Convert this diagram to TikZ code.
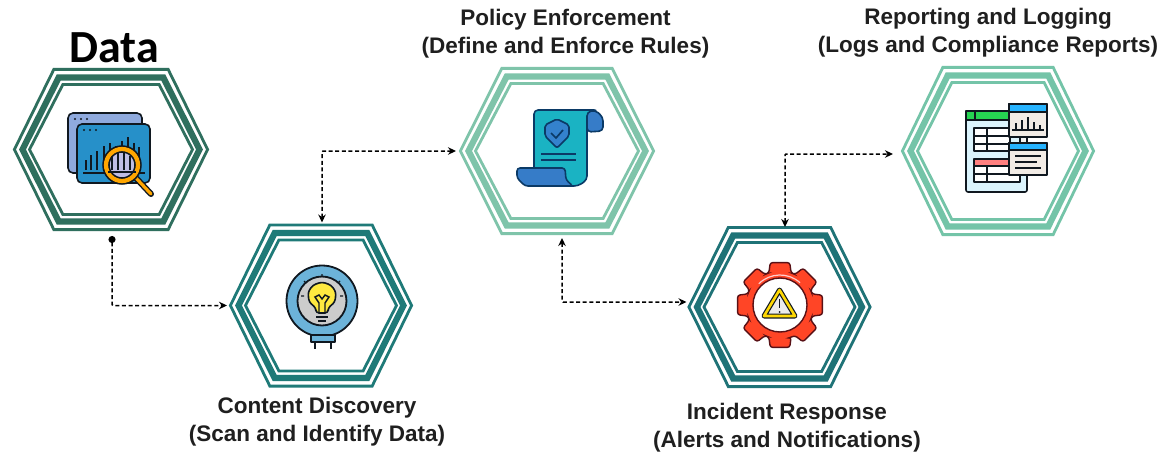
\documentclass[tikz,border=0pt]{standalone}
\usepackage{fontspec}
\setmainfont{Liberation Sans}
\newfontfamily\datafont{Carlito}
\usetikzlibrary{arrows.meta}
\definecolor{hexA}{HTML}{2F6F5E}
\definecolor{hexB}{HTML}{1F7A78}
\definecolor{hexC}{HTML}{7FC4AA}
\definecolor{hexD}{HTML}{1F7377}
\definecolor{hexE}{HTML}{74C4A8}
\definecolor{ink}{HTML}{101820}
\definecolor{navy}{HTML}{0B3A66}
\tikzset{
  x=1pt,y=-1pt,
  label text/.style={font=\bfseries\fontsize{22.5}{28}\selectfont,align=center,text=black!88,inner sep=0pt},
  link/.style={draw=black,line width=1.5pt,dash pattern=on 4pt off 2.6pt,rounded corners=1pt},
  tip/.style={{Stealth[length=8pt,width=7.5pt]}-{Stealth[length=8pt,width=7.5pt]}},
  dottip/.style={{Circle[length=7pt]}-{Stealth[length=8pt,width=7.5pt]}},
  ic/.style={draw=ink,line width=1.6pt,line join=round},
  nc/.style={draw=navy,line width=1.6pt,line join=round},
}
% cx cy w h t colour name
\newcommand{\hexring}[7]{%
  \foreach \k/\lw in {1.4/2.8, 9.5/6.2, 16.5/2.8}{%
    \pgfmathsetmacro{\W}{#3-\k}\pgfmathsetmacro{\H}{#4-\k}\pgfmathsetmacro{\T}{#5-0.6*\k}%
    \draw[#6,line width=\lw pt,line join=miter]
      (#1-\W,#2) -- (#1-\T,#2-\H) -- (#1+\T,#2-\H) -- (#1+\W,#2) -- (#1+\T,#2+\H) -- (#1-\T,#2+\H) -- cycle;
  }%
  \coordinate (#7) at (#1,#2);
  \coordinate (#7-w) at (#1-#3,#2);
  \coordinate (#7-n) at (#1,#2-#4);
  \coordinate (#7-s) at (#1,#2+#4);
}
\begin{document}
\begin{tikzpicture}
\useasboundingbox (0,0) rectangle (1163,452);
\fill[white] (0,0) rectangle (1163,452);
\hexring{111}{149.5}{98}{81.5}{58}{hexA}{data}
\hexring{321}{305.5}{92}{82}{52}{hexB}{content}
\hexring{557}{151}{98}{84}{56}{hexC}{policy}
\hexring{779.5}{307}{92}{81}{52}{hexD}{incident}
\hexring{998}{151}{97}{85}{56}{hexE}{report}

% connectors
\coordinate (p1a) at ([xshift=1pt,yshift=-5pt]data-s);
\coordinate (p1b) at ([xshift=-2pt]content-w);
\draw[link,dottip] (p1a) |- (p1b);
\coordinate (p2a) at ([xshift=1pt,yshift=1pt]content-n);
\coordinate (p2b) at ([xshift=-3pt]policy-w);
\draw[link,tip] (p2a) |- (p2b);
\coordinate (p3a) at ([xshift=5pt,yshift=-3pt]policy-s);
\coordinate (p3b) at ([xshift=-1pt,yshift=5pt]incident-w);
\draw[link,tip] (p3a) |- (p3b);
\coordinate (p4a) at ([xshift=5.5pt,yshift=-1pt]incident-n);
\coordinate (p4b) at ([xshift=-8pt,yshift=-3pt]report-w);
\draw[link,tip] (p4a) |- (p4b);

% --- Data icon
\filldraw[ic,fill=cyan!45!blue!45!white,rounded corners=5pt] (68,113) rectangle (142,173);
\filldraw[ic,fill=blue!35!cyan!75!black!85,rounded corners=5pt] (77,124) rectangle (150,183);
\fill[ink] (75,119) circle[radius=1.1] (81,119) circle[radius=1.1] (87,119) circle[radius=1.1];
\fill[ink] (84,130) circle[radius=1.1] (90,130) circle[radius=1.1] (96,130) circle[radius=1.1];
\foreach \bx/\bt in {86/160,91/155,97/151,104/146,110/143,116/146,122/141,128/137,134/143,139/147}{%
  \draw[ink,line width=1.8pt] (\bx,170) -- (\bx,\bt);}
\draw[ink,line width=1.8pt] (83,173) -- (145,173);
\draw[ink,line width=6pt,line cap=round] (136,178) -- (151,194);
\draw[orange!70!yellow,line width=3.2pt,line cap=round] (136,178) -- (151,194);
\filldraw[draw=ink,line width=7.5pt,fill=cyan!20!blue!25!white] (122,165) circle[radius=16];
\draw[orange!70!yellow,line width=4.2pt] (122,165) circle[radius=16];
\foreach \bx/\bt in {112/156,118/153,124/153,130/156}{%
  \draw[ink,line width=1.8pt] (\bx,170) -- (\bx,\bt);}
\draw[ink,line width=1.5pt] (108,172) -- (136,172);

% --- Bulb icon
\filldraw[ic,fill=blue!35!cyan!50!white!85!black,line width=1.8pt] (322,301) circle[radius=35.5];
\filldraw[ic,fill=black!20,line width=1.8pt] (322,301) circle[radius=24.5];
\filldraw[ic,fill=blue!35!cyan!50!white!85!black] (311,335) rectangle (335,342);
\draw[ink,line width=2pt] (315,342) -- (315,349) (331,342) -- (331,349);
\filldraw[ic,fill=yellow!85!orange!75!white,rounded corners=3pt]
  (316,313) -- (316,308) -- (309,302) -- (308,292) -- (313,285) -- (322,282) -- (331,285) -- (336,292) -- (335,302) -- (328,308) -- (328,313) -- cycle;
\draw[ink,line width=1.4pt] (319,313) -- (319,303) -- (315,297) -- (319,295) -- (322,299) -- (325,295) -- (329,297) -- (325,303) -- (325,313);
\draw[ink,line width=1.4pt] (316,317) -- (328,317) (318,321) -- (326,321);
\draw[ink,line width=1.3pt] (322,277) -- (322,274) (306,283) -- (304,281) (338,283) -- (340,281) (301,296) -- (304,296) (340,296) -- (343,296);

% --- Policy icon
\filldraw[nc,fill=cyan!70!green!90!white,rounded corners=4pt] (534,110) -- (598,110) -- (587,114) -- (587,180) -- (578,186) -- (534,186) -- cycle;
\filldraw[nc,fill=cyan!50!blue!85!white,rounded corners=4pt] (587,132) -- (587,112) -- (595,110) -- (603,117) -- (603,131) -- cycle;
\filldraw[nc,fill=cyan!50!blue!85!white,rounded corners=3pt] (517,168) -- (565,168) -- (566,180) -- (573,186) -- (525,186) -- (517,178) -- cycle;
\filldraw[nc,fill=cyan!55!blue!85!white,rounded corners=2pt] (557,119) -- (569,125) -- (569,136) -- (557,148) -- (545,136) -- (545,125) -- cycle;
\draw[navy,line width=1.7pt] (551,133) -- (556,138) -- (563,130);
\draw[navy,line width=1.7pt] (541,154) -- (576,154) (541,160) -- (576,160);

% --- Gear icon
\begin{scope}[shift={(780,305)}]
\filldraw[draw=ink!70!red,line width=1.4pt,fill=red!72!orange!85!white,rounded corners=2.5pt]
  (72:34) \foreach \a in {90,135,180,225,270,315,0,45}{
    -- ({\a-19}:34) -- ({\a-13}:43.5) -- ({\a+13}:43.5) -- ({\a+19}:34) } -- cycle;
\filldraw[draw=ink!70!red,line width=1.4pt,fill=white] (0,0) circle[radius=27];
\draw[white!80!red,line width=1.2pt] (-48:30) arc[start angle=-48,end angle=-135,radius=30];
\end{scope}
\filldraw[draw=ink,line width=5pt,line join=round,fill=black!8] (779.5,290) -- (795,316) -- (764,316) -- cycle;
\draw[yellow!75!orange,line width=2.6pt,line join=round] (779.5,290) -- (795,316) -- (764,316) -- cycle;
\draw[ink,line width=1.8pt] (779.5,299) -- (779.5,308);
\fill[ink] (779.5,312) circle[radius=1];

% --- Report icon
\filldraw[ic,fill=cyan!14!white,rounded corners=2pt] (966,111) rectangle (1027,192);
\filldraw[ic,fill=green!60!teal!85!white] (966,111) rectangle (1012,120);
\draw[ic] (975,111) -- (975,120);
\filldraw[ic,fill=white] (974,128) rectangle (1010,151);
\draw[ic] (987,128) -- (987,151) (974,136) -- (1010,136) (974,144) -- (1010,144);
\filldraw[ic,fill=red!50!white] (974,159) rectangle (1010,166);
\filldraw[ic,fill=white] (974,166) rectangle (1020,182);
\draw[ic] (987,166) -- (987,182) (974,174) -- (1010,174);
\filldraw[ic,fill=black!5] (1020,137) rectangle (1027,143);
\filldraw[ic,fill=orange!5!white!95!black] (1009,104) rectangle (1047,137);
\filldraw[ic,fill=blue!35!cyan!85!white] (1009,104) rectangle (1047,112);
\draw[ink,line width=1.5pt] (1012,130) -- (1044,130);
\foreach \bx/\bt in {1016/123,1022/120,1028/117,1034/122,1040/125}{\draw[ink,line width=1.5pt] (\bx,130) -- (\bx,\bt);}
\filldraw[ic,fill=orange!5!white!95!black] (1009,143) rectangle (1047,175);
\filldraw[ic,fill=blue!35!cyan!85!white] (1009,143) rectangle (1047,150);
\draw[ink,line width=1.5pt] (1015,156) -- (1041,156) (1015,162) -- (1037,162) (1015,168) -- (1041,168);

% --- text
\node[inner sep=0pt,font=\datafont\bfseries\fontsize{46}{50}\selectfont,text=black] (datatitle) at (114,48) {Data};
\node[label text] (l1) at (317,422) {Content Discovery\\(Scan and Identify Data)};
\node[label text] (l2) at (565.5,34) {Policy Enforcement\\(Define and Enforce Rules)};
\node[label text] (l3) at (787,428) {Incident Response\\(Alerts and Notifications)};
\node[label text] (l4) at (988,33) {Reporting and Logging\\(Logs and Compliance Reports)};
\end{tikzpicture}
\end{document}
